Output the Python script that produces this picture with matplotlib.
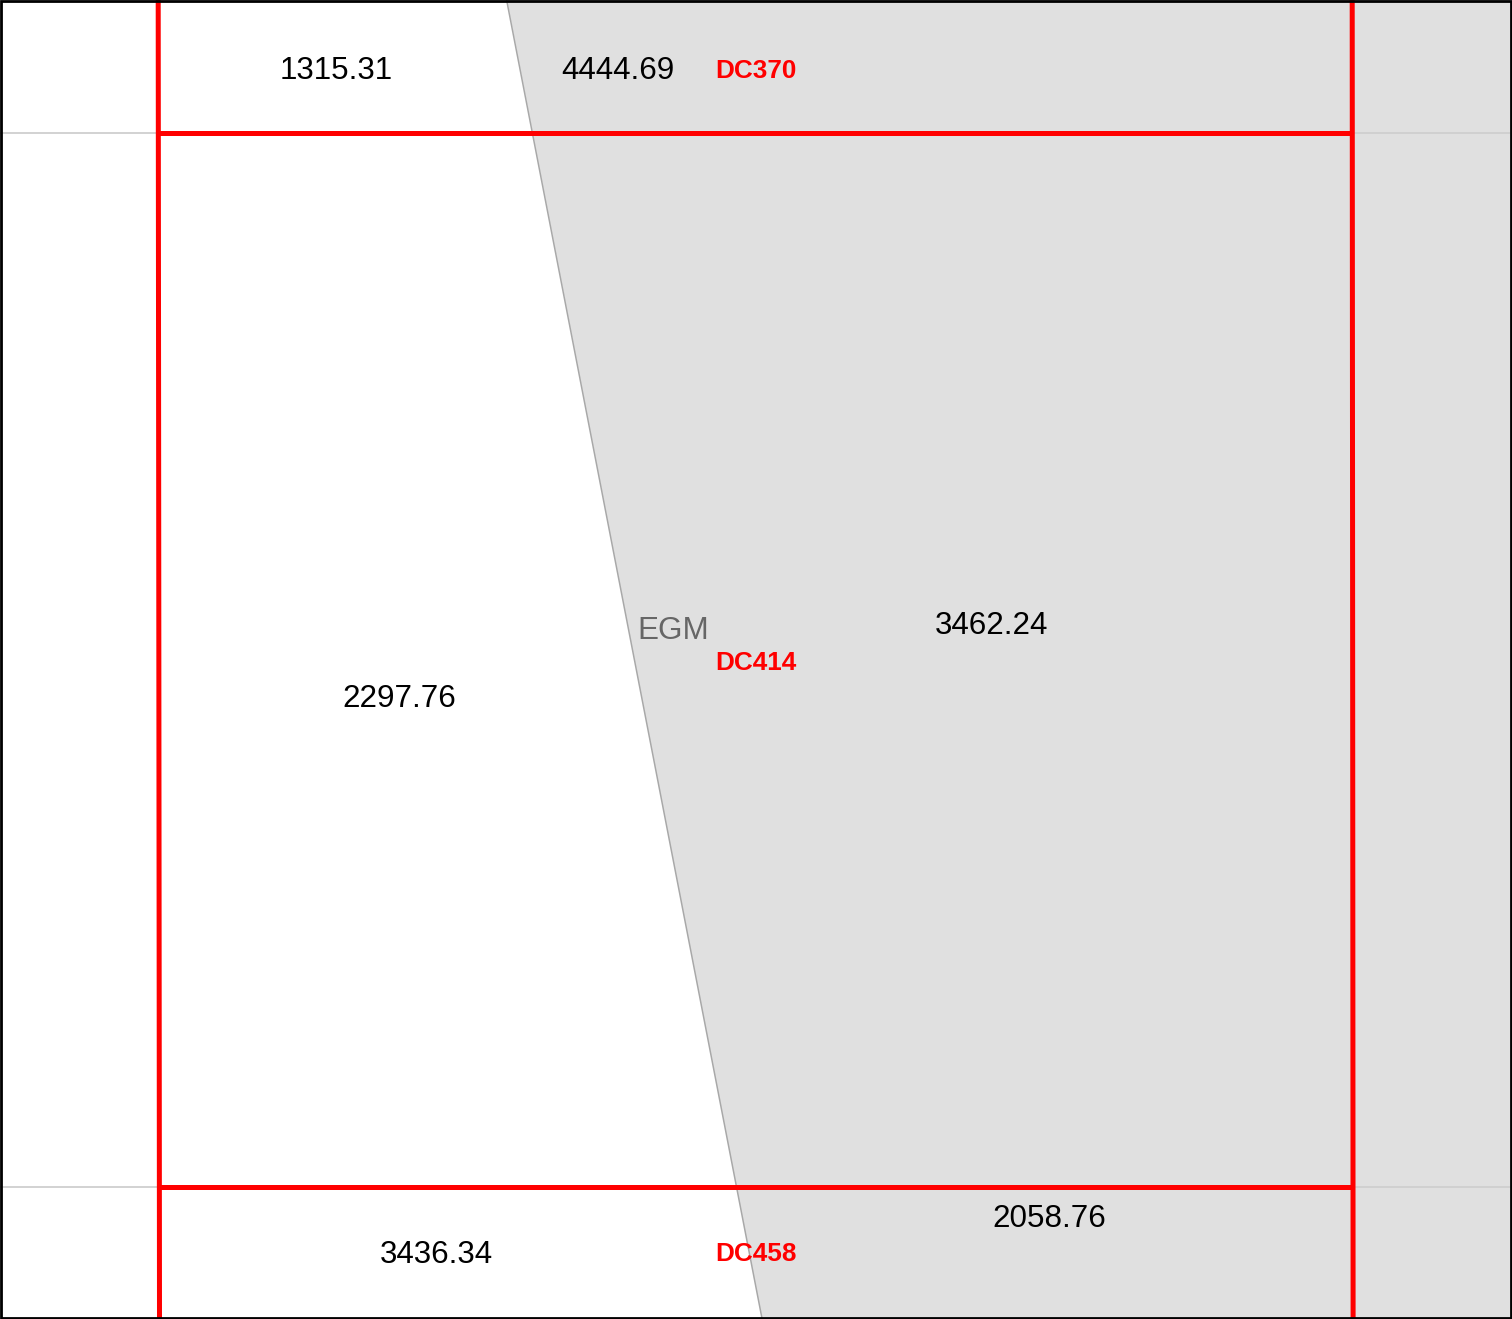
import matplotlib
matplotlib.use("Agg")
import matplotlib.pyplot as plt
from matplotlib.patches import Polygon, Rectangle

plt.rcParams['font.family'] = ['Liberation Sans', 'DejaVu Sans']

# ---- data ----
area_values = ["1315.31", "4444.69", "2297.76", "3462.24", "3436.34", "2058.76"]
area_label_x = [336, 618, 399, 991, 436, 1049]
area_label_y = [79.3, 78.7, 706.7, 634, 1262.7, 1226.7]

dc_labels = ["DC370", "DC414", "DC458"]
dc_label_x = [756, 756, 756]
dc_label_y = [77.5, 670, 1261]

zone_label = "EGM"
zone_label_xy = (673, 639)

# EGM zone boundary (top x, bottom x) at y = 0 and y = 1319
zone_boundary_x = [506.6, 762.1]
zone_boundary_y = [0, 1319]

# red parcel lines
red_v_left_x = [158.2, 159.5]
red_v_right_x = [1352.2, 1353.1]
red_v_y = [0, 1319]
red_h_y = [132.5, 1186.8]

W, H = 1512, 1319
fig = plt.figure(figsize=(W / 100, H / 100), dpi=100)
ax = fig.add_axes([0, 0, 1, 1])
ax.set_xlim(0, W)
ax.set_ylim(H, 0)
ax.axis('off')

px = 72 / 100  # points per pixel

# gray zone
ax.add_patch(Polygon([(zone_boundary_x[0], zone_boundary_y[0]), (W + 10, zone_boundary_y[0]),
                      (W + 10, zone_boundary_y[1]), (zone_boundary_x[1], zone_boundary_y[1])],
                     closed=True, facecolor='#e0e0e0', edgecolor='none', zorder=1))
ax.plot(zone_boundary_x, zone_boundary_y, color='#a8a8a8', lw=1.5 * px, zorder=2)

# light gridlines
for y in red_h_y:
    ax.plot([0, W], [y, y], color='#cfcfcf', lw=1.8 * px, zorder=2)

# red lines
RLW = 5.0 * px
ax.plot(red_v_left_x, red_v_y, color='#ff0000', lw=RLW, zorder=3, solid_capstyle='butt')
ax.plot(red_v_right_x, red_v_y, color='#ff0000', lw=RLW, zorder=3, solid_capstyle='butt')
for y in red_h_y:
    frac = y / H
    xl = red_v_left_x[0] + (red_v_left_x[1] - red_v_left_x[0]) * frac
    xr = red_v_right_x[0] + (red_v_right_x[1] - red_v_right_x[0]) * frac
    ax.plot([xl, xr], [y, y], color='#ff0000', lw=RLW, zorder=3, solid_capstyle='butt')

# texts
for v, x, y in zip(area_values, area_label_x, area_label_y):
    ax.text(x, y, v, ha='center', va='baseline', fontsize=22.6, color='black', zorder=5)
for t, x, y in zip(dc_labels, dc_label_x, dc_label_y):
    ax.text(x, y, t, ha='center', va='baseline', fontsize=18.8, fontweight='bold',
            color='#ff0000', zorder=5)
ax.text(zone_label_xy[0], zone_label_xy[1], zone_label, ha='center', va='baseline',
        fontsize=22.6, color='#666666', zorder=5)

# frame
ax.add_patch(Rectangle((1.4, 1.4), W - 2.8, H - 2.8, fill=False, edgecolor='black',
                       lw=2.8 * px, zorder=10))

fig.savefig('out.png', dpi=100)
